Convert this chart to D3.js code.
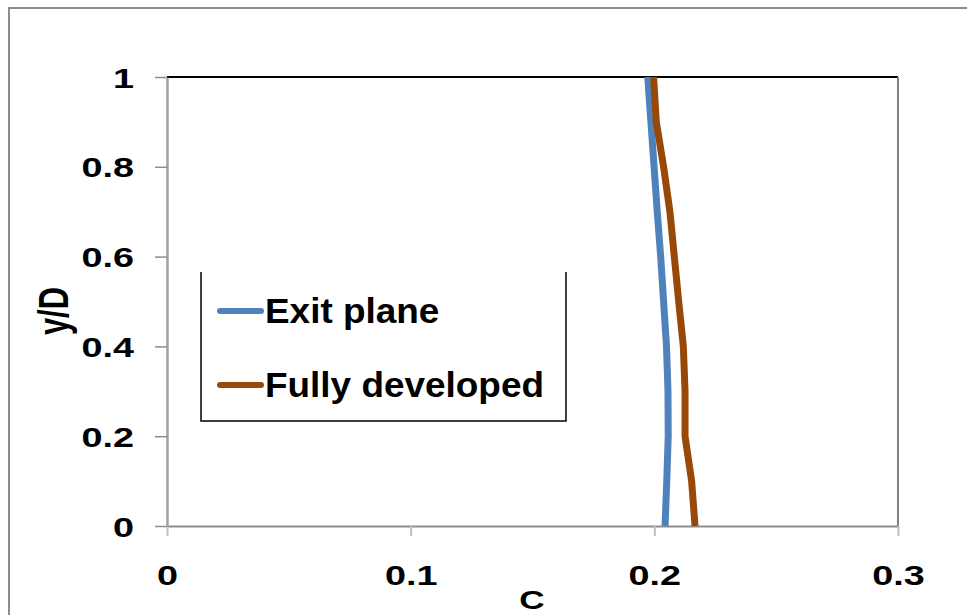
<!DOCTYPE html>
<html>
<head>
<meta charset="utf-8">
<script src="https://cdn.jsdelivr.net/npm/d3@7"></script>
<style>
  html, body { margin: 0; padding: 0; background: #fff; }
  svg { display: block; font-family: "Liberation Sans", Arial, sans-serif; }
</style>
</head>
<body>
<svg id="chart" width="967" height="615"></svg>
<script>
// Profile samples: y/D levels and concentration C for each case
const yLevels = [0, 0.1, 0.2, 0.3, 0.4, 0.5, 0.6, 0.7, 0.8, 0.9, 1.0];
const exitPlaneC = [0.2044, 0.2051, 0.2057, 0.2056, 0.2050, 0.2038, 0.2026, 0.2012, 0.1999, 0.1986, 0.1973];
const fullyDevelopedC = [0.2167, 0.2153, 0.2126, 0.2126, 0.2119, 0.2100, 0.2082, 0.2064, 0.2038, 0.2008, 0.1997];
const seriesNames = ["Exit plane", "Fully developed"];
const seriesColors = ["#4F81BD", "#984807"];
const xTicks = [0, 0.1, 0.2, 0.3];
const yTicks = [0, 0.2, 0.4, 0.6, 0.8, 1];

const svg = d3.select("#chart");
const plot = { left: 167, right: 898, top: 77, bottom: 526 };
const stretch = 1.35; // wide lettering used on axis text

const x = d3.scaleLinear().domain([0, 0.3]).range([plot.left, plot.right]);
const y = d3.scaleLinear().domain([0, 1]).range([plot.bottom, plot.top]);

// outer chart frame
svg.append("rect")
  .attr("x", 9).attr("y", 8).attr("width", 980).attr("height", 640)
  .attr("fill", "none").attr("stroke", "#8c8c8c").attr("stroke-width", 2);

// plot-area frame: top black, right grey
svg.append("line")
  .attr("x1", plot.left).attr("x2", plot.right).attr("y1", plot.top).attr("y2", plot.top)
  .attr("stroke", "#000").attr("stroke-width", 2);
svg.append("line")
  .attr("x1", plot.right).attr("x2", plot.right).attr("y1", plot.top).attr("y2", plot.bottom)
  .attr("stroke", "#808080").attr("stroke-width", 2);

// x axis
const xAxis = svg.append("g")
  .attr("transform", `translate(0,${plot.bottom})`)
  .call(d3.axisBottom(x).tickValues(xTicks).tickSize(10).tickSizeOuter(0)
    .tickFormat(d => d3.format("")(d)));
xAxis.select(".domain").attr("stroke", "#8c8c8c").attr("stroke-width", 2);
xAxis.selectAll(".tick line").attr("stroke", "#c0c0c0").attr("stroke-width", 2);
xAxis.selectAll(".tick text")
  .attr("y", 0).attr("dy", null)
  .attr("transform", `translate(0,59) scale(${stretch},1)`)
  .attr("font-size", 28).attr("font-weight", "bold").attr("fill", "#000")
  .attr("font-family", "'Liberation Sans', Arial, sans-serif");

// y axis
const yAxis = svg.append("g")
  .attr("transform", `translate(${plot.left},0)`)
  .call(d3.axisLeft(y).tickValues(yTicks).tickSize(12).tickSizeOuter(0)
    .tickFormat(d => d3.format("")(d)));
yAxis.select(".domain").attr("stroke", "#a0a0a0").attr("stroke-width", 2.5);
yAxis.selectAll(".tick line").attr("stroke", "#8c8c8c").attr("stroke-width", 1.5);
yAxis.selectAll(".tick text")
  .attr("x", 0).attr("dy", "0.36em")
  .attr("transform", `translate(-33,0) scale(${stretch},1)`)
  .attr("font-size", 28).attr("font-weight", "bold").attr("fill", "#000")
  .attr("font-family", "'Liberation Sans', Arial, sans-serif");

// axis titles
svg.append("text")
  .attr("transform", `translate(532,609) scale(${stretch},1)`)
  .attr("text-anchor", "middle")
  .attr("font-size", 26).attr("font-weight", "bold")
  .text("C");
svg.append("text")
  .attr("transform", `translate(68,311) scale(${stretch},1) rotate(-90)`)
  .attr("text-anchor", "middle")
  .attr("font-size", 31).attr("font-weight", "bold")
  .text("y/D");

// profile lines
const line = d3.line()
  .x(d => x(d[0]))
  .y(d => y(d[1]));
const seriesValues = [exitPlaneC, fullyDevelopedC];
seriesValues.forEach((vals, i) => {
  svg.append("path")
    .datum(vals.map((c, k) => [c, yLevels[k]]))
    .attr("d", line)
    .attr("fill", "none")
    .attr("stroke", seriesColors[i])
    .attr("stroke-width", 7)
    .attr("stroke-linejoin", "round");
});

// legend (open-topped box)
const lg = svg.append("g");
lg.append("path")
  .attr("d", "M201,272 V421 H566 V272")
  .attr("fill", "none").attr("stroke", "#000").attr("stroke-width", 1.5);
const legendRows = [311, 385];
seriesNames.forEach((name, i) => {
  lg.append("line")
    .attr("x1", 220).attr("x2", 261)
    .attr("y1", legendRows[i]).attr("y2", legendRows[i])
    .attr("stroke", seriesColors[i]).attr("stroke-width", 6)
    .attr("stroke-linecap", "round");
  lg.append("text")
    .attr("transform", `translate(265,${legendRows[i] + 12}) scale(1.055,1)`)
    .attr("font-size", 35).attr("font-weight", "bold")
    .text(name);
});
</script>
</body>
</html>
